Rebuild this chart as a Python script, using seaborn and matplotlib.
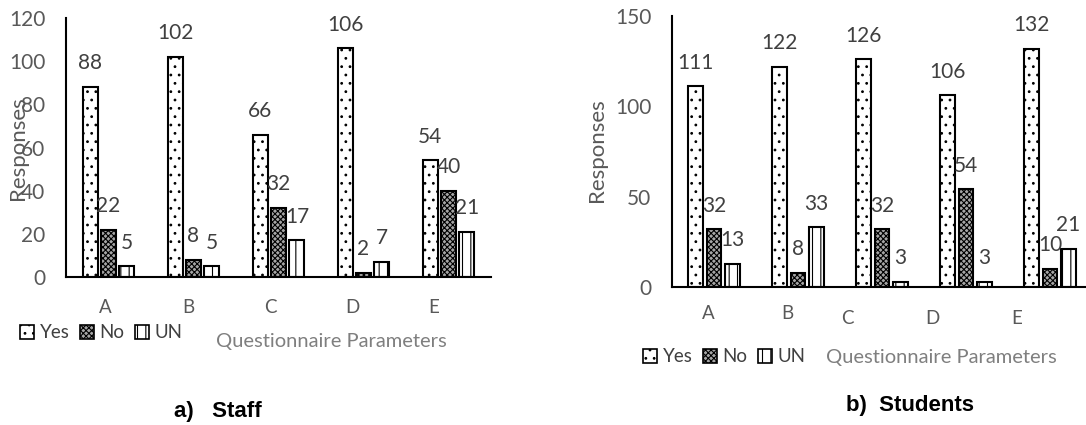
import matplotlib
matplotlib.use("Agg")
import matplotlib.pyplot as plt
import matplotlib.transforms as mtransforms
from matplotlib.patches import Patch
import seaborn as sns
import pandas as pd

params = ["A", "B", "C", "D", "E"]
responses = ["Yes", "No", "UN"]
staff_yes = [88, 102, 66, 106, 54]
staff_no = [22, 8, 32, 2, 40]
staff_un = [5, 5, 17, 7, 21]
stud_yes = [111, 122, 126, 106, 132]
stud_no = [32, 8, 32, 54, 10]
stud_un = [13, 33, 3, 3, 21]

sns.set_theme(style="white")
plt.rcParams['font.family'] = ['Lato', 'DejaVu Sans']
plt.rcParams['hatch.linewidth'] = 0.8
plt.rcParams['hatch.color'] = 'black'

styles = {"Yes": ("white", ".."), "No": ("#a6a6a6", "xxxxxx"), "UN": ("white", "||")}
TICK = "#595959"
LBL = "#404040"
FS = 15


def make_df(yes, no, un):
    rows = []
    for vals, r in zip([yes, no, un], responses):
        for p, v in zip(params, vals):
            rows.append({"param": p, "resp": r, "count": v})
    return pd.DataFrame(rows)


fig = plt.figure(figsize=(10.86, 4.25), dpi=100)
ax1 = fig.add_axes([66 / 1086, 148 / 425, 425 / 1086, 259 / 425])
ax2 = fig.add_axes([672 / 1086, 138 / 425, 420 / 1086, 271 / 425])


def draw(ax, df, ymax, step, xshifts, xpad):
    sns.barplot(data=df, x="param", y="count", hue="resp", hue_order=responses,
                order=params, ax=ax, width=0.65, gap=0.18, legend=False,
                palette={r: styles[r][0] for r in responses},
                edgecolor="black", linewidth=1.5, saturation=1)
    for cont, r in zip(ax.containers, responses):
        for bar in cont:
            bar.set_facecolor(styles[r][0])
            bar.set_hatch(styles[r][1])
            ax.annotate(f"{int(bar.get_height())}",
                        (bar.get_x() + bar.get_width() / 2, bar.get_height()),
                        xytext=(0, 17), textcoords="offset points",
                        ha="center", va="center", fontsize=FS, color=LBL)
    ax.set_ylim(0, ymax)
    ax.set_xlim(-0.5, 4.5)
    ax.set_yticks(range(0, ymax + 1, step))
    ax.tick_params(axis="y", length=0, pad=15, labelsize=FS, labelcolor=TICK)
    ax.tick_params(axis="x", length=0, pad=xpad, labelsize=13.5, labelcolor=TICK)
    for s in ["top", "right"]:
        ax.spines[s].set_visible(False)
    for s in ["left", "bottom"]:
        ax.spines[s].set_color("black")
        ax.spines[s].set_linewidth(1.5)
    ax.set_xlabel("")
    ax.set_ylabel("")
    for lab, (dx, dy) in zip(ax.get_xticklabels(), xshifts):
        lab.set_transform(lab.get_transform() +
                          mtransforms.ScaledTranslation(dx / 100, -dy / 100, fig.dpi_scale_trans))


draw(ax1, make_df(staff_yes, staff_no, staff_un), 120, 20,
     [(-3.5, 0), (-5.5, 0), (-8.5, 0), (-11.5, 0), (-15, 0)], 16)
draw(ax2, make_df(stud_yes, stud_no, stud_un), 150, 50,
     [(-6, 0), (-11, 0), (-35, 5), (-34, 5), (-33, 5)], 13)

fig.text(18 / 1086, 1 - 148 / 425, "Responses", rotation=90, ha="center", va="center",
         fontsize=16, color=TICK)
fig.text(597 / 1086, 1 - 150 / 425, "Responses", rotation=90, ha="center", va="center",
         fontsize=16, color=TICK)

fig.text(331 / 1086, 1 - 342 / 425, "Questionnaire Parameters", ha="center", va="center",
         fontsize=14.5, color="#7f7f7f")
fig.text(941 / 1086, 1 - 357 / 425, "Questionnaire Parameters", ha="center", va="center",
         fontsize=14.5, color="#7f7f7f")

handles = [Patch(facecolor=styles[r][0], hatch=styles[r][1], edgecolor="black",
                 linewidth=1.2, label=r) for r in responses]
for x0, y0 in [(20, 333), (643, 357)]:
    fig.legend(handles=handles, loc="center left", ncol=3,
               bbox_to_anchor=(x0 / 1086, 1 - y0 / 425), frameon=False,
               handlelength=0.75, handleheight=0.75, handletextpad=0.3,
               columnspacing=0.55, borderpad=0, borderaxespad=0,
               prop={"size": 13.5}, labelcolor=LBL)

fig.text(218 / 1086, 1 - 411 / 425, "a)   Staff", ha="center", va="center",
         fontsize=16, fontweight="bold", family="Liberation Sans", color="black")
fig.text(910 / 1086, 1 - 406 / 425, "b)  Students", ha="center", va="center",
         fontsize=16, fontweight="bold", family="Liberation Sans", color="black")

fig.savefig("out.png", dpi=100)
